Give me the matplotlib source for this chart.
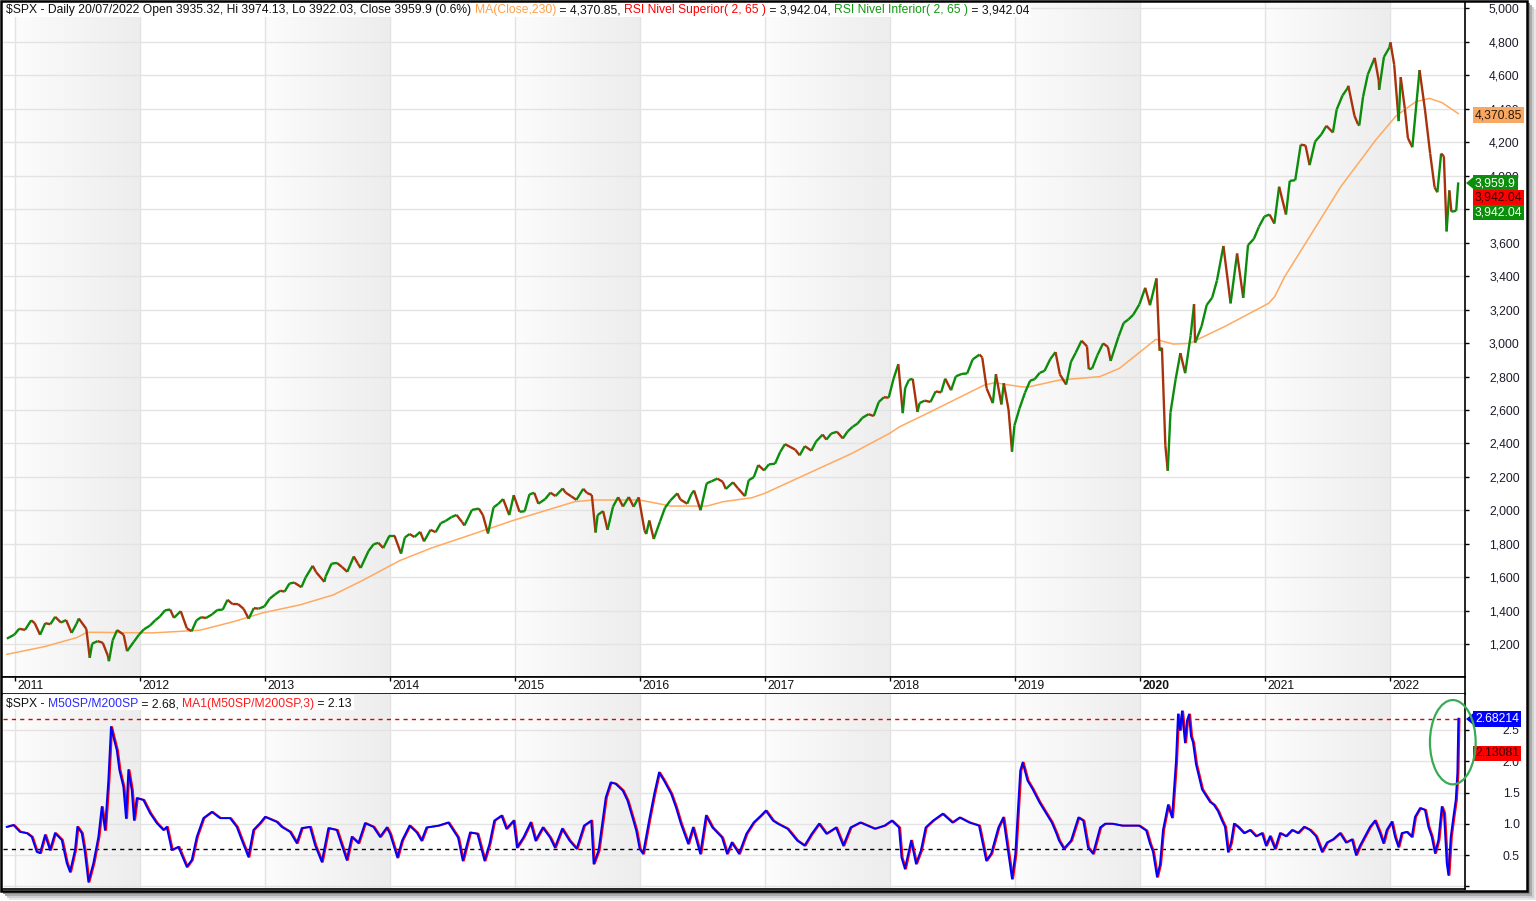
import numpy as np
import pandas as pd
import matplotlib
matplotlib.use("Agg")
import matplotlib.pyplot as plt
from matplotlib.collections import LineCollection
from matplotlib.colors import LinearSegmentedColormap
from matplotlib.patches import Rectangle, Ellipse, Polygon
import matplotlib.transforms as mtransforms

W, H, DPI = 1536, 901, 100
plt.rcParams['font.family'] = ['Liberation Sans', 'DejaVu Sans']
FS = 8.7

# ---- SPX closes (roughly twice a month + turning points)
price_dates = [
    "2010-12-09", "2010-12-31",
    "2011-01-14", "2011-01-31", "2011-02-18", "2011-02-28", "2011-03-16", "2011-03-31",
    "2011-04-15", "2011-04-29", "2011-05-16", "2011-05-31", "2011-06-16", "2011-06-30",
    "2011-07-07", "2011-07-29", "2011-08-08", "2011-08-15", "2011-08-31", "2011-09-15",
    "2011-09-30", "2011-10-03", "2011-10-14", "2011-10-27", "2011-11-15", "2011-11-25",
    "2011-12-15", "2011-12-30",
    "2012-01-13", "2012-01-31", "2012-02-15", "2012-02-29", "2012-03-15", "2012-03-30",
    "2012-04-10", "2012-04-30", "2012-05-18", "2012-06-01", "2012-06-15", "2012-06-29",
    "2012-07-13", "2012-07-31", "2012-08-15", "2012-08-31", "2012-09-14", "2012-09-28",
    "2012-10-15", "2012-10-31", "2012-11-15", "2012-11-30", "2012-12-14", "2012-12-31",
    "2013-01-15", "2013-01-31", "2013-02-15", "2013-02-28", "2013-03-14", "2013-03-28",
    "2013-04-18", "2013-04-30", "2013-05-21", "2013-05-31", "2013-06-24", "2013-06-28",
    "2013-07-15", "2013-07-31", "2013-08-15", "2013-08-30", "2013-09-18", "2013-09-30",
    "2013-10-08", "2013-10-31", "2013-11-15", "2013-11-29", "2013-12-13", "2013-12-31",
    "2014-01-15", "2014-02-03", "2014-02-14", "2014-02-28", "2014-03-14", "2014-03-31",
    "2014-04-11", "2014-04-30", "2014-05-15", "2014-05-30", "2014-06-13", "2014-06-30",
    "2014-07-15", "2014-07-31", "2014-08-07", "2014-08-29", "2014-09-18", "2014-09-30",
    "2014-10-15", "2014-10-31", "2014-11-14", "2014-11-28", "2014-12-16", "2014-12-29",
    "2015-01-15", "2015-01-30", "2015-02-13", "2015-02-27", "2015-03-11", "2015-03-31",
    "2015-04-15", "2015-04-30", "2015-05-21", "2015-05-29", "2015-06-15", "2015-06-30",
    "2015-07-20", "2015-07-31", "2015-08-14", "2015-08-25", "2015-08-31", "2015-09-16",
    "2015-09-29", "2015-10-15", "2015-10-30", "2015-11-13", "2015-11-30", "2015-12-14",
    "2015-12-29",
    "2016-01-15", "2016-01-20", "2016-01-29", "2016-02-11", "2016-02-29", "2016-03-15",
    "2016-03-31", "2016-04-20", "2016-04-29", "2016-05-19", "2016-05-31", "2016-06-08",
    "2016-06-27", "2016-07-15", "2016-07-29", "2016-08-15", "2016-08-31", "2016-09-09",
    "2016-09-30", "2016-10-14", "2016-11-04", "2016-11-15", "2016-11-30", "2016-12-13",
    "2016-12-30",
    "2017-01-13", "2017-01-31", "2017-02-15", "2017-03-01", "2017-03-31", "2017-04-13",
    "2017-04-28", "2017-05-17", "2017-05-31", "2017-06-19", "2017-06-30", "2017-07-14",
    "2017-07-31", "2017-08-17", "2017-08-31", "2017-09-15", "2017-09-29", "2017-10-13",
    "2017-10-31", "2017-11-15", "2017-11-30", "2017-12-15", "2017-12-29",
    "2018-01-12", "2018-01-26", "2018-02-08", "2018-02-15", "2018-02-26", "2018-03-09",
    "2018-03-23", "2018-03-29", "2018-04-13", "2018-04-30", "2018-05-15", "2018-05-31",
    "2018-06-12", "2018-06-29", "2018-07-13", "2018-07-31", "2018-08-15", "2018-08-31",
    "2018-09-20", "2018-09-28", "2018-10-11", "2018-10-29", "2018-11-07", "2018-11-23",
    "2018-11-30", "2018-12-14", "2018-12-24", "2018-12-31",
    "2019-01-15", "2019-01-31", "2019-02-15", "2019-02-28", "2019-03-15", "2019-03-29",
    "2019-04-15", "2019-04-30", "2019-05-13", "2019-05-31", "2019-06-14", "2019-06-28",
    "2019-07-15", "2019-07-31", "2019-08-05", "2019-08-15", "2019-08-30", "2019-09-16",
    "2019-09-30", "2019-10-08", "2019-10-31", "2019-11-15", "2019-11-29", "2019-12-13",
    "2019-12-31",
    "2020-01-17", "2020-01-31", "2020-02-19", "2020-02-28", "2020-03-06", "2020-03-16",
    "2020-03-23", "2020-03-31", "2020-04-15", "2020-04-29", "2020-05-13", "2020-05-29",
    "2020-06-08", "2020-06-11", "2020-06-30", "2020-07-15", "2020-07-31", "2020-08-14",
    "2020-09-02", "2020-09-23", "2020-10-12", "2020-10-30", "2020-11-13", "2020-11-30",
    "2020-12-15", "2020-12-31",
    "2021-01-15", "2021-01-29", "2021-02-12", "2021-03-04", "2021-03-15", "2021-03-31",
    "2021-04-16", "2021-04-30", "2021-05-12", "2021-05-28", "2021-06-15", "2021-06-30",
    "2021-07-19", "2021-07-30", "2021-08-16", "2021-08-31", "2021-09-02", "2021-09-20",
    "2021-09-30", "2021-10-04", "2021-10-15", "2021-10-29", "2021-11-18", "2021-11-30",
    "2021-12-01", "2021-12-15", "2021-12-31",
    "2022-01-03", "2022-01-14", "2022-01-27", "2022-02-02", "2022-02-14", "2022-02-23",
    "2022-03-08", "2022-03-29", "2022-04-14", "2022-04-29", "2022-05-12", "2022-05-20",
    "2022-05-31", "2022-06-08", "2022-06-16", "2022-06-24", "2022-06-30", "2022-07-14",
    "2022-07-20",
]
price_close = [
    1234, 1258,
    1293, 1286, 1343, 1327, 1257, 1326, 1320, 1364, 1330, 1345, 1268, 1321,
    1354, 1292, 1119, 1204, 1219, 1209, 1131, 1099, 1224, 1285, 1257, 1159, 1216, 1258,
    1289, 1312, 1343, 1366, 1403, 1408, 1358, 1398, 1295, 1278, 1343, 1362,
    1357, 1379, 1405, 1407, 1466, 1441, 1440, 1412, 1353, 1416, 1413, 1426,
    1472, 1498, 1520, 1515, 1563, 1569, 1541, 1598, 1669, 1631, 1573, 1606,
    1682, 1686, 1661, 1633, 1725, 1682, 1656, 1757, 1798, 1806, 1775, 1848,
    1848, 1742, 1838, 1859, 1841, 1872, 1815, 1884, 1870, 1924, 1937, 1960,
    1973, 1931, 1910, 2003, 2011, 1972, 1862, 2018, 2039, 2068, 1972, 2091,
    1992, 1995, 2096, 2105, 2040, 2068, 2106, 2086, 2131, 2107, 2084, 2063,
    2129, 2104, 2092, 1868, 1972, 1996, 1884, 2023, 2079, 2023, 2080, 2022, 2078,
    1880, 1859, 1940, 1829, 1932, 2016, 2060, 2102, 2065, 2040, 2097, 2119,
    2001, 2162, 2174, 2190, 2171, 2128, 2168, 2133, 2085, 2180, 2199, 2271, 2239,
    2275, 2279, 2349, 2396, 2363, 2329, 2384, 2357, 2412, 2453, 2423, 2459,
    2470, 2430, 2472, 2500, 2519, 2553, 2575, 2564, 2648, 2676, 2674,
    2786, 2873, 2581, 2731, 2780, 2786, 2588, 2641, 2656, 2648, 2711, 2705,
    2787, 2718, 2801, 2816, 2818, 2902, 2931, 2914, 2728, 2641, 2814, 2633,
    2760, 2600, 2351, 2507,
    2610, 2704, 2775, 2784, 2822, 2834, 2905, 2946, 2812, 2752, 2887, 2942,
    3014, 2980, 2844, 2848, 2926, 2998, 2977, 2893, 3038, 3120, 3141, 3169, 3231,
    3330, 3226, 3386, 2954, 2972, 2386, 2237, 2585, 2783, 2940, 2820, 3044,
    3232, 3002, 3100, 3227, 3271, 3373, 3580, 3237, 3535, 3270, 3585, 3622,
    3695, 3756,
    3768, 3714, 3934, 3768, 3969, 3973, 4185, 4181, 4063, 4204, 4246, 4298,
    4258, 4395, 4479, 4523, 4537, 4358, 4308, 4300, 4471, 4605, 4704, 4567,
    4513, 4709, 4766,
    4797, 4663, 4326, 4589, 4401, 4225, 4170, 4631, 4392, 4132, 3930, 3901,
    4132, 4116, 3667, 3912, 3785, 3790, 3960,
]

# ---- MA(Close,230) as drawn
ma_dates = [
    "2010-12-09", "2011-03-29", "2011-07-01", "2011-08-01", "2012-02-07", "2012-06-25",
    "2012-10-01", "2012-12-28", "2013-04-13", "2013-07-20", "2013-10-16", "2014-01-30",
    "2014-05-01", "2014-08-24", "2014-10-12", "2015-01-01", "2015-06-25", "2015-08-15",
    "2016-01-01", "2016-04-01", "2016-07-16", "2016-09-01", "2016-11-25", "2017-01-01",
    "2017-09-13", "2018-01-01", "2018-01-30", "2018-05-01", "2018-10-04", "2018-11-03",
    "2019-01-15", "2019-02-06", "2019-05-12", "2019-09-06", "2019-11-03", "2020-02-17",
    "2020-04-08", "2020-05-26", "2020-09-09", "2021-01-12", "2021-01-30", "2021-02-28",
    "2021-08-11", "2021-11-21", "2022-01-19", "2022-03-18", "2022-04-27", "2022-06-03",
    "2022-07-20",
]
ma_values = [
    1140, 1186, 1240, 1272, 1268, 1284,
    1335, 1389, 1435, 1495, 1584, 1700,
    1774, 1853, 1887, 1943, 2052, 2062,
    2062, 2026, 2026, 2052, 2076, 2102,
    2341, 2461, 2500, 2590, 2749, 2763,
    2740, 2736, 2779, 2799, 2849, 3022,
    2994, 2998, 3102, 3237, 3277, 3396,
    3934, 4213, 4356, 4442, 4462, 4436,
    4371,
]

# ---- M50SP/M200SP (decimal year, value)
osc_years = [
    2010.936, 2010.989, 2011.042, 2011.096, 2011.136, 2011.176, 2011.202, 2011.242,
    2011.282, 2011.322, 2011.376, 2011.416, 2011.442, 2011.482, 2011.501, 2011.536,
    2011.562, 2011.589, 2011.629, 2011.669, 2011.696, 2011.722, 2011.749, 2011.770,
    2011.789, 2011.816, 2011.837, 2011.869, 2011.890, 2011.909, 2011.936, 2011.954,
    2011.976, 2012.029, 2012.082, 2012.136, 2012.189, 2012.216, 2012.256, 2012.309,
    2012.376, 2012.416, 2012.456, 2012.509, 2012.576, 2012.642, 2012.722, 2012.776,
    2012.816, 2012.869, 2012.909, 2012.962, 2013.002, 2013.096, 2013.136, 2013.202,
    2013.256, 2013.296, 2013.362, 2013.402, 2013.456, 2013.509, 2013.576, 2013.629,
    2013.656, 2013.696, 2013.749, 2013.802, 2013.869, 2013.922, 2013.976, 2014.002,
    2014.061, 2014.098, 2014.158, 2014.216, 2014.254, 2014.294, 2014.390, 2014.468,
    2014.546, 2014.584, 2014.642, 2014.701, 2014.758, 2014.798, 2014.836, 2014.894,
    2014.933, 2014.991, 2015.018, 2015.069, 2015.127, 2015.166, 2015.224, 2015.282,
    2015.321, 2015.379, 2015.438, 2015.495, 2015.554, 2015.612, 2015.631, 2015.670,
    2015.728, 2015.767, 2015.806, 2015.864, 2015.902, 2015.942, 2015.972, 2015.999,
    2016.026, 2016.077, 2016.116, 2016.154, 2016.194, 2016.251, 2016.290, 2016.329,
    2016.387, 2016.426, 2016.484, 2016.530, 2016.581, 2016.658, 2016.698, 2016.736,
    2016.794, 2016.853, 2016.911, 2016.969, 2017.008, 2017.066, 2017.105, 2017.182,
    2017.260, 2017.318, 2017.376, 2017.434, 2017.493, 2017.570, 2017.628, 2017.686,
    2017.764, 2017.822, 2017.880, 2017.958, 2018.016, 2018.074, 2018.094, 2018.121,
    2018.171, 2018.210, 2018.249, 2018.287, 2018.346, 2018.423, 2018.501, 2018.559,
    2018.636, 2018.714, 2018.772, 2018.811, 2018.869, 2018.908, 2018.946, 2018.978,
    2019.005, 2019.044, 2019.063, 2019.102, 2019.141, 2019.198, 2019.238, 2019.296,
    2019.334, 2019.354, 2019.393, 2019.450, 2019.509, 2019.548, 2019.586, 2019.626,
    2019.683, 2019.722, 2019.780, 2019.858, 2019.935, 2019.994, 2020.052, 2020.082,
    2020.106, 2020.138, 2020.162, 2020.186, 2020.226, 2020.258, 2020.290, 2020.306,
    2020.322, 2020.338, 2020.362, 2020.378, 2020.394, 2020.410, 2020.426, 2020.450,
    2020.474, 2020.498, 2020.530, 2020.562, 2020.594, 2020.626, 2020.658, 2020.682,
    2020.706, 2020.730, 2020.754, 2020.786, 2020.834, 2020.882, 2020.930, 2020.978,
    2021.010, 2021.042, 2021.082, 2021.122, 2021.170, 2021.218, 2021.266, 2021.314,
    2021.362, 2021.410, 2021.458, 2021.498, 2021.546, 2021.602, 2021.650, 2021.698,
    2021.730, 2021.762, 2021.802, 2021.842, 2021.882, 2021.922, 2021.949, 2021.976,
    2022.016, 2022.042, 2022.069, 2022.096, 2022.136, 2022.176, 2022.202, 2022.242,
    2022.282, 2022.309, 2022.336, 2022.362, 2022.389, 2022.416, 2022.434, 2022.456,
    2022.469, 2022.488, 2022.509, 2022.528, 2022.541, 2022.549,
]
osc_values = [
    0.95, 0.98, 0.87, 0.85, 0.79, 0.55, 0.53, 0.82,
    0.58, 0.85, 0.74, 0.37, 0.23, 0.58, 0.95, 0.85,
    0.53, 0.07, 0.37, 0.79, 1.27, 0.90, 1.70, 2.55,
    2.39, 2.18, 1.86, 1.59, 1.09, 1.86, 1.54, 1.06,
    1.41, 1.38, 1.17, 1.01, 0.90, 0.95, 0.58, 0.63,
    0.31, 0.42, 0.79, 1.09, 1.19, 1.09, 1.09, 0.95,
    0.74, 0.47, 0.90, 1.01, 1.11, 1.03, 0.95, 0.87,
    0.69, 0.93, 0.95, 0.66, 0.39, 0.93, 0.90, 0.58,
    0.42, 0.79, 0.69, 1.01, 0.95, 0.79, 0.94, 0.84,
    0.46, 0.73, 0.97, 0.86, 0.73, 0.94, 0.97, 1.02,
    0.78, 0.41, 0.86, 0.84, 0.41, 0.68, 1.05, 1.13,
    0.92, 1.05, 0.62, 0.78, 1.02, 0.73, 0.94, 0.78,
    0.62, 0.92, 0.73, 0.60, 0.97, 1.05, 0.36, 0.57,
    1.42, 1.66, 1.64, 1.53, 1.37, 1.10, 0.89, 0.60,
    0.52, 1.08, 1.48, 1.82, 1.69, 1.48, 1.26, 1.00,
    0.68, 0.94, 0.52, 1.13, 0.94, 0.78, 0.52, 0.70,
    0.52, 0.84, 1.02, 1.13, 1.21, 1.05, 1.00, 0.92,
    0.73, 0.65, 0.84, 1.00, 0.84, 0.94, 0.65, 0.94,
    1.02, 0.97, 0.92, 0.97, 1.05, 0.94, 0.46, 0.28,
    0.73, 0.36, 0.57, 0.94, 1.05, 1.16, 1.02, 1.10,
    1.02, 0.97, 0.41, 0.52, 0.94, 1.10, 0.57, 0.12,
    0.52, 1.85, 1.98, 1.69, 1.56, 1.34, 1.21, 1.02,
    0.84, 0.73, 0.60, 0.73, 1.10, 1.05, 0.62, 0.52,
    0.94, 1.00, 1.00, 0.97, 0.97, 0.97, 0.89, 0.68,
    0.55, 0.15, 0.35, 0.90, 1.30, 1.10, 2.00, 2.75,
    2.50, 2.80, 2.30, 2.65, 2.75, 2.40, 2.30, 1.95,
    1.75, 1.55, 1.45, 1.35, 1.30, 1.20, 1.05, 0.95,
    0.55, 0.70, 1.00, 0.95, 0.85, 0.90, 0.80, 0.85,
    0.65, 0.80, 0.60, 0.85, 0.80, 0.90, 0.85, 0.95,
    0.90, 0.80, 0.55, 0.70, 0.75, 0.85, 0.70, 0.75,
    0.50, 0.65, 0.80, 0.95, 1.05, 0.85, 0.69, 0.90,
    1.03, 0.79, 0.63, 0.85, 0.87, 0.79, 1.11, 1.25,
    1.22, 0.95, 0.79, 0.53, 0.74, 1.27, 1.17, 0.37,
    0.18, 0.79, 1.11, 1.38, 1.81, 2.68,
]
osc_upper = 2.68214
osc_lower = 0.59

years = list(range(2011, 2023))
price_ticks = list(range(1200, 5001, 200))
hidden_price_ticks = [3800]          # sits under the value boxes in the original
osc_ticks = [0.0, 0.5, 1.0, 1.5, 2.0, 2.5]

UP, DN = '#0b8c0b', '#a8320c'
MA_COL = '#ffaa60'
XL = (2010.906, 2022.602)
YL_TOP = (1004.6, 5037.7)
YL_BOT = (-0.044, 3.076)


def to_year(dates):
    d = pd.DatetimeIndex(pd.to_datetime(dates))
    ndays = np.where(d.is_leap_year, 366, 365)
    return np.asarray(d.year + (d.dayofyear - 1) / ndays, dtype=float)


def box(l, t, r, b):
    return [l / W, 1 - b / H, (r - l) / W, (b - t) / H]


def P(x, y):
    return (x / W, 1 - y / H)


fig = plt.figure(figsize=(W / DPI, H / DPI), dpi=DPI, facecolor='white')

# shadow + frame
for off, col in [(9, '#e6e6e6'), (7, '#cfcfcf'), (5, '#ababab'), (3, '#8a8a8a')]:
    fig.add_artist(Rectangle(P(off, 891 + off), (1527) / W, 891 / H,
                             transform=fig.transFigure, fc=col, ec='none', zorder=-3))
fig.add_artist(Rectangle(P(0, 891), 1527 / W, 891 / H, transform=fig.transFigure,
                         fc='white', ec='none', zorder=-2))

ax = fig.add_axes(box(3, 2, 1465, 677))
axd = fig.add_axes(box(3, 677, 1465, 694))
axb = fig.add_axes(box(3, 694, 1465, 889))

grad = np.linspace(0, 1, 256).reshape(1, -1)
shade = LinearSegmentedColormap.from_list('shade', ['#fcfcfc', '#ededed'])

for a, yl, ticks in [(ax, YL_TOP, price_ticks), (axb, YL_BOT, osc_ticks)]:
    for y in years[::2]:
        a.imshow(grad, extent=(y, y + 1, yl[0], yl[1]), aspect='auto', cmap=shade,
                 zorder=0, interpolation='bilinear')
    a.vlines(years, yl[0], yl[1], colors='#e3e3e3', lw=1, zorder=1)
    a.hlines(ticks, XL[0], XL[1], colors='#e3e3e3', lw=1, zorder=1)
    a.set_xlim(*XL)
    a.set_ylim(*yl)
    a.set_xticks([])
    a.yaxis.tick_right()
    a.set_yticks(ticks)
    a.tick_params(axis='y', length=2.9, width=1, pad=36.5, labelsize=FS,
                  labelcolor='#1c1c2c', color='black')
    for s in ['left', 'top']:
        a.spines[s].set_visible(False)
    a.spines['right'].set_linewidth(1.2)
    a.spines['bottom'].set_linewidth(1.2)

ax.set_yticklabels(['' if v in hidden_price_ticks else f"{v:,}" for v in price_ticks])
axb.set_yticklabels(['' if v == 0 else f"{v:.1f}" for v in osc_ticks])
for a in (ax, axb):
    for lab in a.get_yticklabels():
        lab.set_horizontalalignment('right')

# price
t = to_year(price_dates)
c = np.asarray(price_close, dtype=float)
segs = np.stack([np.column_stack([t[:-1], c[:-1]]), np.column_stack([t[1:], c[1:]])], axis=1)
cols = np.where(c[1:] >= c[:-1], UP, DN)
ax.plot(to_year(ma_dates), ma_values, color=MA_COL, lw=1.1, zorder=2)
ax.add_collection(LineCollection(segs, colors=cols, linewidths=1.7, zorder=3,
                                 capstyle='butt'))

# oscillator: the 3-bar MA hugs the line, so it only peeks out beside it in red
axb.hlines(osc_upper, XL[0], osc_years[-1], colors='#e00000', linestyles=(0, (3, 3)),
           lw=1, zorder=2)
axb.hlines(osc_lower, XL[0], osc_years[-1], colors='black', linestyles=(0, (3, 3)),
           lw=1, zorder=2)
red_tr = mtransforms.offset_copy(axb.transData, fig=fig, x=1.2, y=0, units='dots')
axb.plot(osc_years, osc_values, color='#ff0000', lw=1.3, zorder=3, transform=red_tr)
axb.plot(osc_years, osc_values, color='#0000ff', lw=1.4, zorder=4)

# date strip
axd.set_xlim(*XL)
axd.set_ylim(0, 1)
axd.set_yticks([])
axd.xaxis.tick_top()
axd.set_xticks(years)
axd.tick_params(axis='x', direction='in', length=3, width=1, labeltop=False,
                labelbottom=False)
axd.spines['left'].set_visible(False)
for s in ['top', 'bottom', 'right']:
    axd.spines[s].set_linewidth(1.2)
lab_tr = mtransforms.offset_copy(axd.transData, fig=fig, x=3, y=0, units='dots')
for y in years:
    axd.text(y, 0.27, str(y), transform=lab_tr, ha='left', va='baseline', fontsize=FS,
             color='#111111', fontweight='bold' if y == 2020 else 'normal')

# headers
renderer = fig.canvas.get_renderer()


def text_width(s):
    tmp = fig.text(0, 0, s + '|', fontsize=FS)
    bar = fig.text(0, 0, '|', fontsize=FS)
    w = tmp.get_window_extent(renderer).width - bar.get_window_extent(renderer).width
    tmp.remove()
    bar.remove()
    return w


def header(x0, base_y, top_y, pieces):
    full = ''.join(p for p, _ in pieces)
    fig.add_artist(Rectangle(P(x0 - 2, top_y + 15), (text_width(full) + 4) / W, 15 / H,
                             transform=fig.transFigure, fc='white', ec='none', zorder=5))
    prefix = ''
    for s, col in pieces:
        x = x0 + text_width(prefix)
        fig.text(*P(x, base_y), s, fontsize=FS, color=col, ha='left', va='baseline',
                 zorder=6)
        prefix += s


header(6, 13.3, 2, [
    ("$SPX - Daily 20/07/2022 Open 3935.32, Hi 3974.13, Lo 3922.03, Close 3959.9 (0.6%) ", '#111111'),
    ("MA(Close,230)", '#ffa04a'),
    (" = 4,370.85, ", '#111111'),
    ("RSI Nivel Superior( 2, 65 )", '#ff0000'),
    (" = 3,942.04, ", '#111111'),
    ("RSI Nivel Inferior( 2, 65 )", '#119911'),
    (" = 3,942.04", '#111111'),
])
header(6, 707.3, 695, [
    ("$SPX - ", '#111111'),
    ("M50SP/M200SP", '#2a2aff'),
    (" = 2.68, ", '#111111'),
    ("MA1(M50SP/M200SP,3)", '#ff1a1a'),
    (" = 2.13", '#111111'),
])


# right-side value labels
def value_box(yc, s, fc, tc, arrow=False):
    fig.text(*P(1475, yc), s, fontsize=FS, color=tc, ha='left', va='center', zorder=8,
             bbox=dict(boxstyle='square,pad=0.14', fc=fc, ec='none'))
    if arrow:
        fig.add_artist(Polygon([P(1466, yc), P(1474, yc - 6.5), P(1474, yc + 6.5)],
                               closed=True, transform=fig.transFigure, fc=fc, ec='none',
                               zorder=8))


value_box(115, "4,370.85", '#f8a862', '#2a1a0a')
value_box(183, "3,959.9", '#0b8f0b', 'white', arrow=True)
value_box(198, "3,942.04", '#ff0000', '#3a0000')
value_box(212.5, "3,942.04", '#0b8f0b', 'white')
value_box(719, "2.68214", '#0000ff', 'white', arrow=True)
value_box(753.5, "2.13081", '#ff0000', '#3a0000')

# highlight ellipse
fig.add_artist(Ellipse(P(1452.8, 742.2), 45.7 / W, 84.3 / H, transform=fig.transFigure,
                       fill=False, ec='#3aab55', lw=1.6, zorder=9))

# outer frame
fig.add_artist(Rectangle(P(0.8, 890.5), 1526 / W, 889.7 / H, transform=fig.transFigure,
                         fill=False, ec='black', lw=1.8, zorder=10))

fig.savefig('out.png', dpi=DPI, facecolor='white')
